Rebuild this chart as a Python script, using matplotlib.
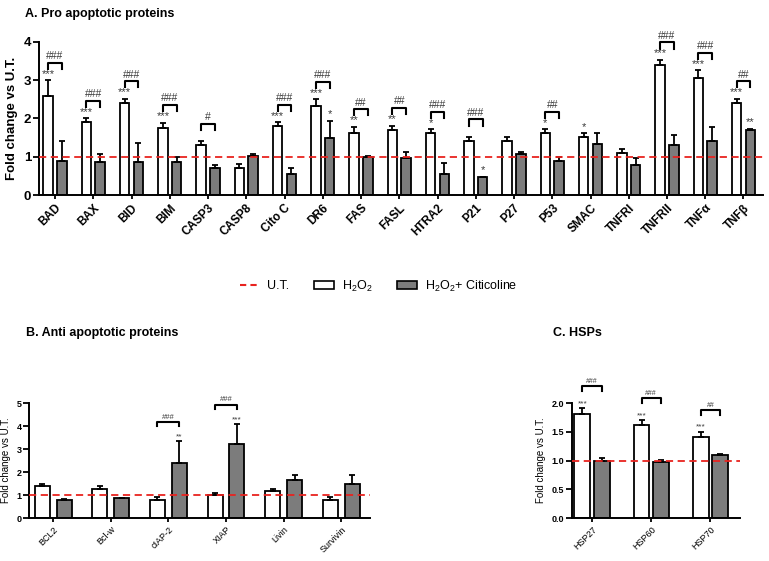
import numpy as np
import matplotlib
matplotlib.use('Agg')
import matplotlib.pyplot as plt
from matplotlib.lines import Line2D
from matplotlib.patches import Patch

plt.rcParams['font.family'] = ['Liberation Sans', 'DejaVu Sans']
plt.rcParams['mathtext.default'] = 'regular'

# A. pro apoptotic
pro_names = ['BAD', 'BAX', 'BID', 'BIM', 'CASP3', 'CASP8', 'Cito C', 'DR6', 'FAS', 'FASL',
             'HTRA2', 'P21', 'P27', 'P53', 'SMAC', 'TNFRI', 'TNFRII', 'TNF\u03b1', 'TNF\u03b2']
pro_h2o2 = [2.57, 1.90, 2.40, 1.74, 1.30, 0.70, 1.81, 2.33, 1.63, 1.70,
            1.61, 1.40, 1.40, 1.61, 1.51, 1.10, 3.38, 3.04, 2.39]
pro_h2o2_err = [0.42, 0.10, 0.11, 0.15, 0.10, 0.11, 0.09, 0.17, 0.15, 0.11,
                0.10, 0.11, 0.11, 0.10, 0.10, 0.10, 0.14, 0.21, 0.12]
pro_cit = [0.90, 0.87, 0.85, 0.85, 0.70, 1.03, 0.54, 1.50, 1.00, 0.97,
           0.56, 0.47, 1.08, 0.90, 1.32, 0.77, 1.30, 1.41, 1.70]
pro_cit_err = [0.50, 0.19, 0.50, 0.15, 0.07, 0.04, 0.16, 0.44, 0.03, 0.16,
               0.27, 0.01, 0.05, 0.10, 0.31, 0.20, 0.26, 0.36, 0.02]
pro_star_h = ['***', '***', '***', '***', '', '', '***', '***', '**', '**',
              '*', '', '', '*', '*', '', '***', '***', '***']
pro_star_c = ['', '', '', '', '', '', '', '*', '', '',
              '', '*', '', '', '', '', '', '', '**']
pro_hash = ['###', '###', '###', '###', '#', '', '###', '###', '##', '##',
            '###', '###', '', '##', '', '', '###', '###', '##']

# B. anti apoptotic
anti_names = ['BCL2', 'Bcl-w', 'cIAP-2', 'XIAP', 'Livin', 'Survivin']
anti_h2o2 = [1.38, 1.28, 0.80, 0.99, 1.17, 0.80]
anti_h2o2_err = [0.11, 0.10, 0.10, 0.09, 0.11, 0.10]
anti_cit = [0.80, 0.86, 2.40, 3.22, 1.65, 1.46]
anti_cit_err = [0.01, 0.03, 0.94, 0.86, 0.22, 0.42]
anti_star_h = ['', '', '', '', '', '']
anti_star_c = ['', '', '**', '***', '', '']
anti_hash = ['', '', '###', '###', '', '']

# C. HSPs
hsp_names = ['HSP27', 'HSP60', 'HSP70']
hsp_h2o2 = [1.81, 1.61, 1.41]
hsp_h2o2_err = [0.10, 0.09, 0.09]
hsp_cit = [1.00, 0.98, 1.10]
hsp_cit_err = [0.04, 0.03, 0.01]
hsp_star_h = ['***', '***', '***']
hsp_star_c = ['', '', '']
hsp_hash = ['###', '###', '##']

GREY = '#7c7c7c'
TXT = '#3a3a3a'


def panel(ax, names, h, he, c, ce, sh, sc, hs, ymax, ystep, w, off, bold,
          star_fs, hash_fs, gap, tick_fs, ylab_fs, yfmt):
    x = np.arange(len(names))
    ax.bar(x - off, h, w, color='white', edgecolor='black', linewidth=1.3, zorder=2)
    ax.bar(x + off, c, w, color=GREY, edgecolor='black', linewidth=1.3, zorder=2)
    ax.errorbar(x - off, h, yerr=[np.zeros(len(h)), he], fmt='none', ecolor='black',
                elinewidth=1.3, capsize=2.5, capthick=1.3, zorder=3)
    ax.errorbar(x + off, c, yerr=[np.zeros(len(c)), ce], fmt='none', ecolor='black',
                elinewidth=1.3, capsize=2.5, capthick=1.3, zorder=3)
    ax.axhline(1, color='#e8231f', ls=(0, (4, 2.5)), lw=1.3, zorder=4)
    d = ymax * 0.01
    for i in range(len(names)):
        th = h[i] + he[i]
        tc = c[i] + ce[i]
        top = max(th, tc)
        if sh[i]:
            ax.text(x[i] - off, th + d, sh[i], ha='center', va='bottom',
                    fontsize=star_fs, color=TXT)
        if sc[i]:
            ax.text(x[i] + off, tc + d, sc[i], ha='center', va='bottom',
                    fontsize=star_fs, color=TXT)
        if hs[i]:
            base = top + gap
            ht = ymax * 0.04
            ax.plot([x[i] - off, x[i] - off, x[i] + off, x[i] + off],
                    [base, base + ht, base + ht, base], color='black', lw=1.5,
                    clip_on=False)
            ax.text(x[i], base + ht + d, hs[i], ha='center', va='bottom',
                    fontsize=hash_fs, color=TXT, clip_on=False)
    ax.set_xlim(-0.42, len(names) - 0.5)
    ax.set_ylim(0, ymax)
    ax.set_yticks(np.arange(0, ymax + ystep / 2, ystep))
    ax.yaxis.set_major_formatter(plt.FormatStrFormatter(yfmt))
    ax.set_xticks(x)
    ax.set_xticklabels(names, rotation=45, ha='right', rotation_mode='anchor',
                       fontsize=tick_fs, fontweight='bold' if bold else 'normal')
    for lab in ax.get_yticklabels():
        lab.set_fontsize(tick_fs + 1 if bold else tick_fs)
        lab.set_fontweight('bold')
    ax.set_ylabel('Fold change vs U.T.', fontsize=ylab_fs,
                  fontweight='bold' if bold else 'normal')
    for s in ['top', 'right']:
        ax.spines[s].set_visible(False)
    for s in ['left', 'bottom']:
        ax.spines[s].set_linewidth(1.4)
    ax.tick_params(axis='y', length=4, width=1.3, pad=1.5)
    ax.tick_params(axis='x', length=3, width=1.3, pad=2)


fig = plt.figure(figsize=(7.69, 5.61), dpi=100)

axA = fig.add_axes([0.0507, 0.6524, 0.941, 0.2733])
panel(axA, pro_names, pro_h2o2, pro_h2o2_err, pro_cit, pro_cit_err, pro_star_h,
      pro_star_c, pro_hash, 4, 1, 0.25, 0.18, True, 8, 7.5, 0.3, 8.5, 9.5, '%d')

axB = fig.add_axes([0.0377, 0.0766, 0.4434, 0.205])
panel(axB, anti_names, anti_h2o2, anti_h2o2_err, anti_cit, anti_cit_err, anti_star_h,
      anti_star_c, anti_hash, 5, 1, 0.26, 0.19, False, 6, 5.5, 0.65, 6.5, 7, '%d')

axC = fig.add_axes([0.7438, 0.0766, 0.2185, 0.205])
panel(axC, hsp_names, hsp_h2o2, hsp_h2o2_err, hsp_cit, hsp_cit_err, hsp_star_h,
      hsp_star_c, hsp_hash, 2, 0.5, 0.27, 0.165, False, 6, 5, 0.3, 6.5, 7, '%.1f')
axC.set_xlim(-0.34, 2.5)

fig.text(25 / 769, 1 - 14 / 561, 'A. Pro apoptotic proteins', fontsize=9,
         fontweight='bold', va='center')
fig.text(26 / 769, 1 - 333 / 561, 'B. Anti apoptotic proteins', fontsize=9,
         fontweight='bold', va='center')
fig.text(553 / 769, 1 - 333 / 561, 'C. HSPs', fontsize=9,
         fontweight='bold', va='center')

handles = [Line2D([0], [0], color='#e8231f', ls=(0, (3, 2)), lw=1.5),
           Patch(facecolor='white', edgecolor='black', linewidth=1.2),
           Patch(facecolor=GREY, edgecolor='black', linewidth=1.2)]
labels = ['U.T.', 'H$_2$O$_2$', 'H$_2$O$_2$+ Citicoline']
fig.legend(handles, labels, loc='center', bbox_to_anchor=(0.492, 1 - 286 / 561),
           ncol=3, frameon=False, fontsize=9, handlelength=1.6, handletextpad=0.6,
           columnspacing=2.0)

fig.savefig('out.png', dpi=100)
